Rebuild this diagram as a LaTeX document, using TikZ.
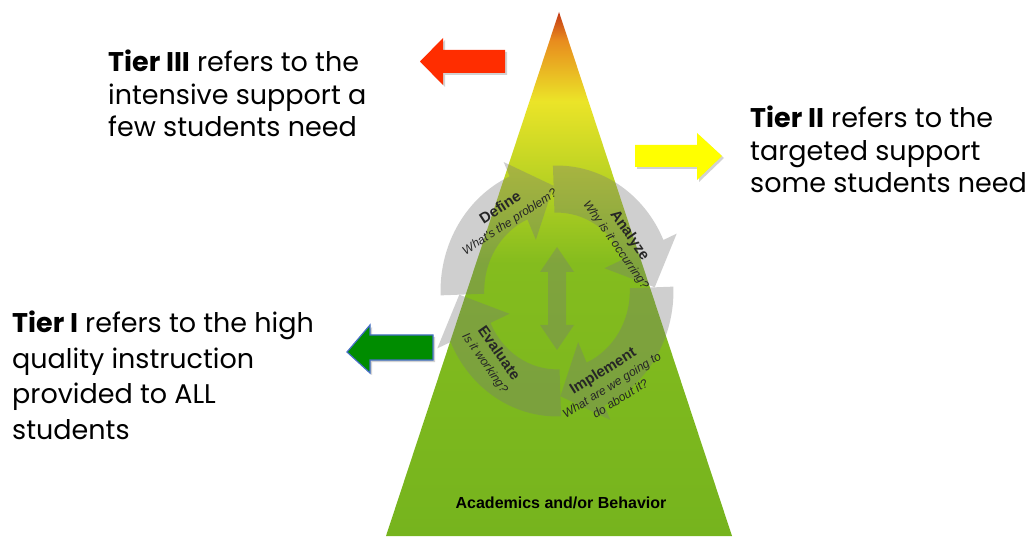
\documentclass[tikz,border=0pt]{standalone}
\usepackage{fontspec}
\setmainfont{Poppins}
\newfontfamily\cyclefont{Liberation Sans}
\usetikzlibrary{shadows}
\usetikzlibrary{positioning}

\definecolor{tierred}{RGB}{255,45,0}
\definecolor{tieryellow}{RGB}{255,255,0}
\definecolor{tiergreen}{RGB}{0,140,0}
\definecolor{tierblue}{RGB}{70,110,200}
\definecolor{cyclegray}{RGB}{120,120,120}
\definecolor{pyrgreen}{RGB}{118,180,30}
\definecolor{pyrgreenb}{RGB}{132,188,30}
\definecolor{pyrlime}{RGB}{185,210,35}
\definecolor{pyryellow}{RGB}{235,228,40}
\definecolor{pyrorange}{RGB}{232,140,30}
\definecolor{pyrred}{RGB}{195,55,20}

% pyramid colours, bottom (25bp) to apex (75bp)
\pgfdeclareverticalshading{pyramid}{100bp}{color(0bp)=(pyrgreen); color(25bp)=(pyrgreen);
  color(51bp)=(pyrgreenb); color(59bp)=(pyrlime); color(66.5bp)=(pyryellow);
  color(72.3bp)=(pyrorange); color(75bp)=(pyrred); color(100bp)=(pyrred)}

\newcommand{\steptitle}[1]{{\upshape\bfseries\fontsize{15}{16}\selectfont #1}}

\begin{document}
\begin{tikzpicture}[
		x=1pt, y=1pt,
		tiertext/.style={font=\fontsize{27}{32.5}\selectfont, align=left, inner sep=0pt, anchor=north west},
		cyclearrow/.style={fill=cyclegray, fill opacity=0.35},
		cyclelabel/.style={font=\cyclefont\fontsize{12}{16}\selectfont\itshape, align=center, inner sep=0pt, text=black!85},
		tierarrow/.style={drop shadow={shadow xshift=2pt, shadow yshift=-2pt, opacity=0.35}},
	]
	\useasboundingbox (0,0) rectangle (1036,536);
	\fill[white] (0,0) rectangle (1036,536);

	% pyramid
	\shade[shading=pyramid] (386,0) -- (559,524) -- (732,0) -- cycle;

	% problem solving cycle
	\begin{scope}[shift={(557,245)}, xscale=1.04, yscale=1.12]
		\foreach \tail in {182,92,2,-88}{
			\fill[cyclearrow] (\tail:112) arc[start angle=\tail, end angle=\tail-68, radius=112]
				-- ({\tail-68}:126) -- ({\tail-90}:94) -- ({\tail-68}:50) -- ({\tail-68}:70)
				arc[start angle=\tail-68, end angle=\tail, radius=70] -- cycle;
		}
	\end{scope}
	\fill[cyclearrow] (557,289) -- (540,264) -- (548,264) -- (548,211) -- (540,211) -- (557,186)
		-- (574,211) -- (566,211) -- (566,264) -- (574,264) -- cycle;

	\node[cyclelabel, rotate=33] (define) at (505,321)
		{\steptitle{Define}\\What's the problem?};
	\node[cyclelabel, rotate=-55] (analyze) at (623,296)
		{\steptitle{Analyze}\\Why is it occurring?};
	\node[cyclelabel, rotate=32] (implement) at (611,152)
		{\steptitle{Implement}\\What are we going to\\do about it?};
	\node[cyclelabel, rotate=-55] (evaluate) at (492,178)
		{\steptitle{Evaluate}\\Is it working?};

	\node[font=\cyclefont\bfseries\fontsize{16}{19}\selectfont, anchor=base] (focus) at (561,28)
		{Academics and/or Behavior};

	% tier arrows
	\fill[tierred, tierarrow] (420,474.5) -- (443,498) -- (443,486) -- (505,486)
		-- (505,463) -- (443,463) -- (443,451) -- cycle;
	\fill[tieryellow, tierarrow] (635,391) -- (697,391) -- (697,403) -- (722,380)
		-- (697,356) -- (697,369) -- (635,369) -- cycle;
	\filldraw[fill=tiergreen, draw=tierblue, line width=1.2pt, tierarrow] (347,184) -- (370,211)
		-- (370,201) -- (433,201) -- (433,176) -- (370,176) -- (370,163) -- cycle;

	% tier texts
	\node[tiertext] (tier3) at (108,486)
		{\textbf{Tier III} refers to the\\intensive support a\\few students need};
	\node[tiertext] (tier2) at (750,430)
		{\textbf{Tier II} refers to the\\targeted support\\some students need};
	\node[tiertext, font=\fontsize{27}{35.5}\selectfont] (tier1) at (12,225)
		{\textbf{Tier I} refers to the high\\quality instruction\\provided to ALL\\students};
\end{tikzpicture}
\end{document}
